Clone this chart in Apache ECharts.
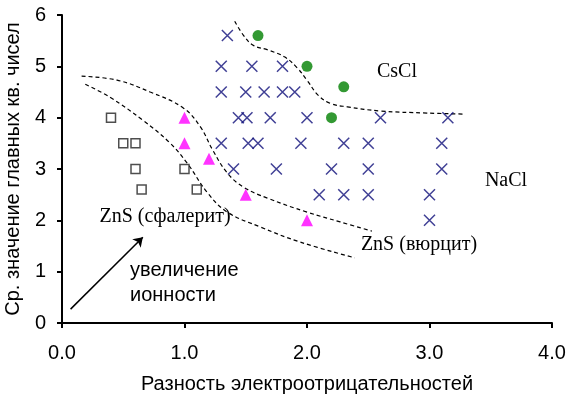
<!DOCTYPE html>
<html>
<head>
<meta charset="utf-8">
<script src="https://cdn.jsdelivr.net/npm/echarts@6/dist/echarts.min.js"></script>
<style>
  html, body { margin: 0; padding: 0; background: #fff; }
  #chart { width: 568px; height: 396px; }
</style>
</head>
<body>
<div id="chart"></div>
<script>
// Structure types vs. electronegativity difference and mean principal quantum number
const xTicks = [0, 1, 2, 3, 4];
const yTicks = [0, 1, 2, 3, 4, 5, 6];

// ZnS (sphalerite) compounds
const sphaleriteX = [0.4, 0.5, 0.6, 0.6, 0.65, 1.0, 1.1];
const sphaleriteY = [4.0, 3.5, 3.5, 3.0, 2.6, 3.0, 2.6];

// ZnS (wurtzite) compounds
const wurtziteX = [1.0, 1.0, 1.2, 1.5, 2.0];
const wurtziteY = [4.0, 3.5, 3.2, 2.5, 2.0];

// CsCl compounds
const csclX = [1.6, 2.0, 2.3, 2.2];
const csclY = [5.6, 5.0, 4.6, 4.0];

// NaCl compounds
const naclX = [1.35,
  1.3, 1.55, 1.8,
  1.3, 1.5, 1.65, 1.8, 1.9,
  1.44, 1.51, 1.7, 2.0, 2.6, 3.15,
  1.3, 1.52, 1.6, 1.95, 2.3, 2.5, 3.1,
  1.4, 1.75, 2.2, 2.5, 3.1,
  2.1, 2.3, 2.5, 3.0,
  3.0];
const naclY = [5.6,
  5.0, 5.0, 5.0,
  4.5, 4.5, 4.5, 4.5, 4.5,
  4.0, 4.0, 4.0, 4.0, 4.0, 4.0,
  3.5, 3.5, 3.5, 3.5, 3.5, 3.5, 3.5,
  3.0, 3.0, 3.0, 3.0, 3.0,
  2.5, 2.5, 2.5, 2.5,
  2.0];

// Dashed region boundaries
const wurtziteBoundary = [[0.16, 4.81], [0.45, 4.73], [0.72, 4.50], [0.99, 4.19], [1.13, 3.82],
  [1.23, 3.37], [1.35, 2.92], [1.48, 2.65], [1.68, 2.43], [2.0, 2.16], [2.27, 1.97], [2.53, 1.79]];
const sphaleriteBoundary = [[0.19, 4.65], [0.39, 4.40], [0.66, 3.95], [0.88, 3.51], [1.02, 3.12],
  [1.19, 2.53], [1.35, 2.16], [1.62, 1.87], [1.94, 1.58], [2.39, 1.27]];
const csclBoundary = [[1.41, 5.88], [1.48, 5.61], [1.56, 5.41], [1.68, 5.32], [1.82, 5.18],
  [1.92, 4.97], [2.0, 4.73], [2.09, 4.44], [2.19, 4.28], [2.33, 4.21], [2.6, 4.13],
  [2.98, 4.09], [3.27, 4.07]];

// Arrow "increasing ionicity"
const ionicityArrow = [[0.07, 0.27], [0.66, 1.67]];

const zip = (xs, ys) => xs.map((x, i) => [x, ys[i]]);

const SANS = 'Liberation Sans, Arial, sans-serif';
const SERIF = 'Liberation Serif, Times New Roman, serif';

const chart = echarts.init(document.getElementById('chart'), null, { renderer: 'canvas' });

const dashedCurve = pts => ({
  type: 'line',
  data: pts,
  smooth: 0.4,
  showSymbol: false,
  silent: true,
  lineStyle: { color: '#000', width: 1.2, type: [4, 3] },
  z: 1
});

chart.setOption({
  animation: false,
  backgroundColor: '#fff',
  grid: { left: 62, right: 16, top: 15, bottom: 73, containLabel: false, outerBoundsMode: 'none' },
  xAxis: {
    type: 'value',
    min: xTicks[0], max: xTicks[xTicks.length - 1], interval: 1,
    name: 'Разность электроотрицательностей',
    nameLocation: 'middle', nameGap: 51,
    nameTextStyle: { fontFamily: SANS, fontSize: 20, color: '#000' },
    axisLine: { lineStyle: { color: '#000', width: 2 } },
    axisTick: { show: true, inside: false, length: 5, lineStyle: { color: '#000', width: 2 } },
    axisLabel: { fontFamily: SANS, fontSize: 20, color: '#000', margin: 20,
      formatter: v => v.toFixed(1) },
    splitLine: { show: false }
  },
  yAxis: {
    type: 'value',
    min: yTicks[0], max: yTicks[yTicks.length - 1], interval: 1,
    name: 'Ср. значение главных кв. чисел',
    nameLocation: 'middle', nameGap: 34, nameRotate: 90,
    nameTextStyle: { fontFamily: SANS, fontSize: 20, color: '#000' },
    axisLine: { lineStyle: { color: '#000', width: 2 } },
    axisTick: { show: true, inside: false, length: 5, lineStyle: { color: '#000', width: 2 } },
    axisLabel: { fontFamily: SANS, fontSize: 20, color: '#000', margin: 16 },
    splitLine: { show: false }
  },
  series: [
    dashedCurve(wurtziteBoundary),
    dashedCurve(sphaleriteBoundary),
    dashedCurve(csclBoundary),
    {
      type: 'scatter', name: 'ZnS (сфалерит)',
      data: zip(sphaleriteX, sphaleriteY),
      symbol: 'rect', symbolSize: 9,
      itemStyle: { color: '#fff', borderColor: '#222', borderWidth: 1.5 }, z: 3
    },
    {
      type: 'scatter', name: 'ZnS (вюрцит)',
      data: zip(wurtziteX, wurtziteY),
      symbol: 'triangle', symbolSize: 12,
      itemStyle: { color: '#ff00ff' }, z: 3
    },
    {
      type: 'scatter', name: 'CsCl',
      data: zip(csclX, csclY),
      symbol: 'circle', symbolSize: 11,
      itemStyle: { color: '#008000' }, z: 3
    },
    {
      type: 'scatter', name: 'NaCl',
      data: zip(naclX, naclY),
      symbol: 'path://M0,0L10,10M10,0L0,10', symbolSize: 11,
      itemStyle: { color: 'none', borderColor: '#10107a', borderWidth: 1.5 }, z: 3
    },
    {
      type: 'lines', coordinateSystem: 'cartesian2d',
      data: [{ coords: ionicityArrow }],
      symbol: ['none', 'arrow'], symbolSize: 9,
      lineStyle: { color: '#000', width: 1.5, opacity: 1 },
      silent: true, z: 2
    }
  ],
  graphic: [
    { type: 'text', x: 397, y: 72, style: { text: 'CsCl', font: '20px ' + SERIF, fill: '#000', align: 'center', verticalAlign: 'middle' } },
    { type: 'text', x: 506, y: 181, style: { text: 'NaCl', font: '20px ' + SERIF, fill: '#000', align: 'center', verticalAlign: 'middle' } },
    { type: 'text', x: 165, y: 217, style: { text: 'ZnS (сфалерит)', font: '20px ' + SERIF, fill: '#000', align: 'center', verticalAlign: 'middle' } },
    { type: 'text', x: 419, y: 245, style: { text: 'ZnS (вюрцит)', font: '20px ' + SERIF, fill: '#000', align: 'center', verticalAlign: 'middle' } },
    { type: 'text', x: 130, y: 270, style: { text: 'увеличение', font: '20px ' + SANS, fill: '#000', align: 'left', verticalAlign: 'middle' } },
    { type: 'text', x: 130, y: 295, style: { text: 'ионности', font: '20px ' + SANS, fill: '#000', align: 'left', verticalAlign: 'middle' } }
  ]
});
</script>
</body>
</html>
